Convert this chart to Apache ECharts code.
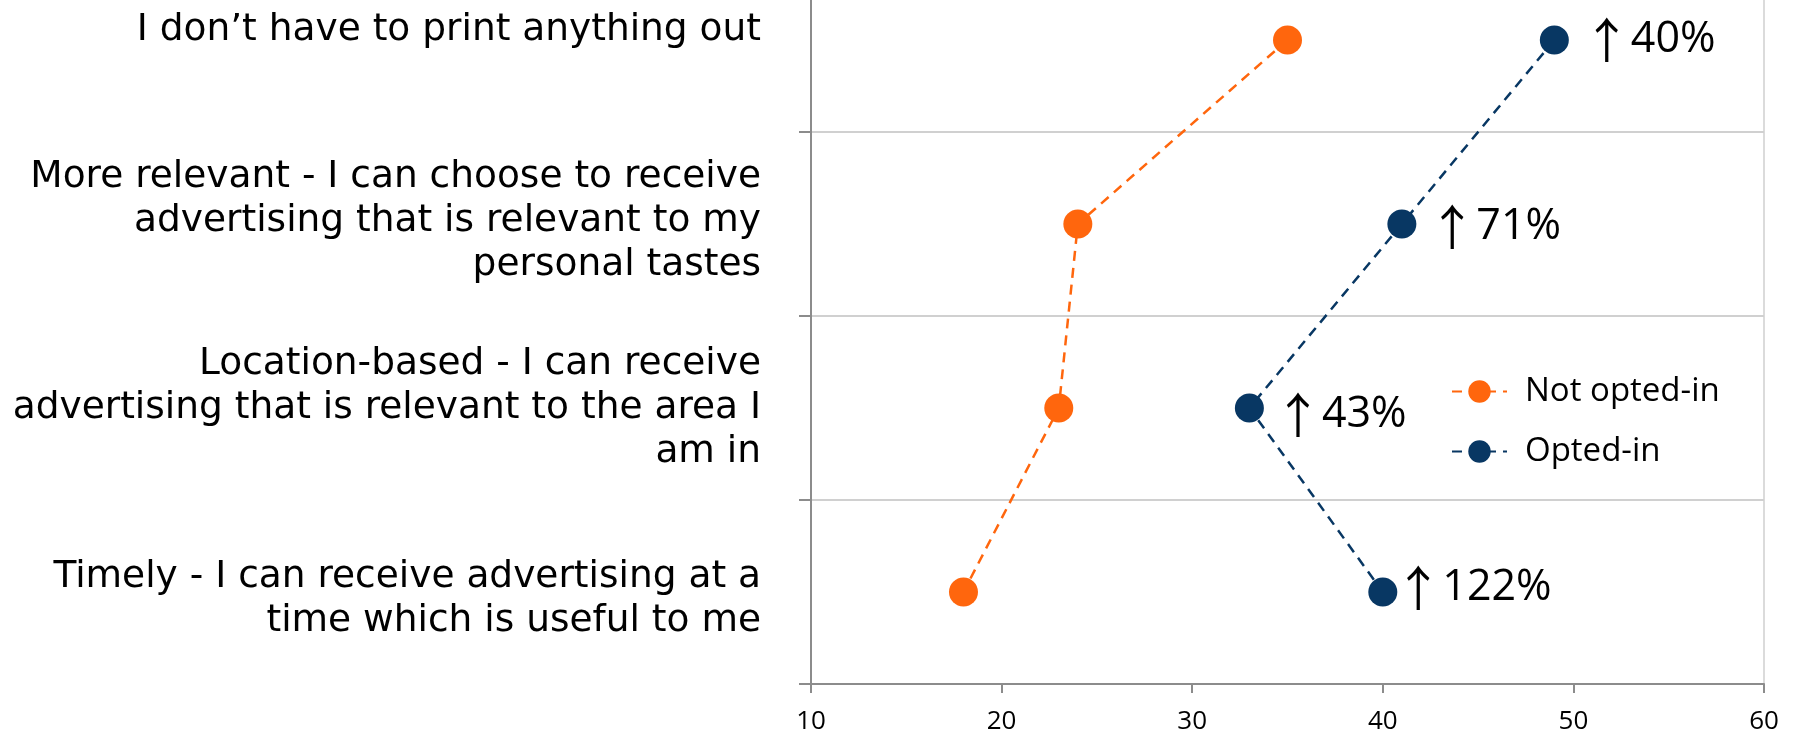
<!DOCTYPE html>
<html>
<head>
<meta charset="utf-8">
<script src="https://cdn.jsdelivr.net/npm/echarts@6/dist/echarts.min.js"></script>
<style>
  html, body { margin: 0; padding: 0; background: #ffffff; overflow: hidden; width: 1794px; height: 737px; position: relative; }
  /* The plot's top band runs past the upper edge of the page */
  #chart { position: absolute; left: 0; top: -52px; width: 1794px; height: 789px; }
</style>
</head>
<body>
<div id="chart"></div>
<script>
// Survey statements, listed top to bottom
const statements = [
  'I don\u2019t have to print anything out',
  'More relevant - I can choose to receive\nadvertising that is relevant to my\npersonal tastes',
  'Location-based - I can receive\nadvertising that is relevant to the area I\nam in',
  'Timely - I can receive advertising at a\ntime which is useful to me'
];

// Share of respondents agreeing with each statement
const notOptedIn = [35, 24, 23, 18];
const optedIn = [49, 41, 33, 40];

const seriesNames = ['Not opted-in', 'Opted-in'];

// Value axis ticks
const xMin = 10;
const xMax = 60;
const xStep = 10;

// Placement of the uplift labels beside the opted-in markers
const upliftGap = [14, 12, 10, -3];
const upliftShiftY = [0, 3, 7, -4];

// Blank space above / below each statement label (nudges it off its tick)
const statementPadTop = [0, 0, 0, 14];
const statementPadBottom = [19, 6, 0, 0];

const ORANGE = '#FF660D';
const NAVY = '#083763';
const AXIS_GREY = '#8c8c8c';
const GRID_GREY = '#d0d0d0';

const STATEMENT_FONT = "'DejaVu Sans', Verdana, sans-serif";
const NUMBER_FONT = "'Open Sans', sans-serif";

// Percentage gain of opted-in over not opted-in for a statement
function uplift(i) {
  return Math.round((optedIn[i] / notOptedIn[i] - 1) * 100);
}

// Rich-text styles: one for the statement lines, one per blank spacer height
const statementRich = {
  t: { fontFamily: STATEMENT_FONT, fontSize: 37.5, lineHeight: 44, color: '#000000' }
};
statementPadTop.concat(statementPadBottom).forEach((h) => {
  if (h > 0) statementRich['gap' + h] = { fontSize: 1, lineHeight: h };
});

function statementLabel(value, index) {
  const lines = value.split('\n').map((l) => '{t|' + l + '}');
  if (statementPadTop[index] > 0) lines.unshift('{gap' + statementPadTop[index] + '| }');
  if (statementPadBottom[index] > 0) lines.push('{gap' + statementPadBottom[index] + '| }');
  return lines.join('\n');
}

const chart = echarts.init(document.getElementById('chart'), null, { renderer: 'canvas' });

chart.setOption({
  animation: false,
  backgroundColor: '#ffffff',
  grid: {
    left: 811,
    right: 30,
    top: 0,
    bottom: 53,
    show: true,
    borderColor: GRID_GREY,
    borderWidth: 1.5
  },
  legend: {
    data: seriesNames,
    orient: 'vertical',
    left: 1446,
    top: 422,
    itemWidth: 55,
    itemHeight: 28,
    itemGap: 27,
    textStyle: {
      fontFamily: NUMBER_FONT,
      fontSize: 33,
      color: '#000000',
      padding: [0, 0, 0, 13]
    }
  },
  xAxis: {
    type: 'value',
    min: xMin,
    max: xMax,
    interval: xStep,
    axisLine: { show: true, lineStyle: { color: AXIS_GREY, width: 2 } },
    axisTick: { show: true, length: 9, lineStyle: { color: AXIS_GREY, width: 2 } },
    splitLine: { show: false },
    axisLabel: {
      fontFamily: NUMBER_FONT,
      fontSize: 26,
      color: '#000000',
      margin: 25
    }
  },
  yAxis: {
    type: 'category',
    inverse: true,
    boundaryGap: true,
    data: statements,
    axisLine: { show: true, lineStyle: { color: AXIS_GREY, width: 2 } },
    axisTick: { show: true, length: 12, lineStyle: { color: AXIS_GREY, width: 2 } },
    splitLine: { show: true, lineStyle: { color: GRID_GREY, width: 2 } },
    axisLabel: {
      fontFamily: STATEMENT_FONT,
      fontSize: 37.5,
      lineHeight: 44,
      color: '#000000',
      margin: 50,
      align: 'right',
      formatter: statementLabel,
      rich: statementRich
    }
  },
  series: [
    {
      name: seriesNames[0],
      type: 'line',
      data: notOptedIn.map((v, i) => [v, statements[i]]),
      symbol: 'circle',
      symbolSize: 29,
      itemStyle: { color: ORANGE },
      lineStyle: { color: ORANGE, width: 2.5, type: [10, 7] }
    },
    {
      name: seriesNames[1],
      type: 'line',
      data: optedIn.map((v, i) => ({
        value: [v, statements[i]],
        label: { distance: upliftGap[i], offset: [0, upliftShiftY[i]] }
      })),
      symbol: 'circle',
      symbolSize: 29,
      itemStyle: { color: NAVY },
      lineStyle: { color: NAVY, width: 2.5, type: [10, 7] },
      label: {
        show: true,
        position: 'right',
        fontFamily: NUMBER_FONT,
        fontSize: 43,
        color: '#000000',
        formatter: (p) => '{arrow|\u2191}{pct|' + uplift(p.dataIndex) + '%}',
        rich: {
          arrow: { fontFamily: "'Noto Sans CJK JP', 'DejaVu Sans', sans-serif", fontSize: 48, color: '#000000', lineHeight: 50 },
          pct: { fontFamily: NUMBER_FONT, fontSize: 43, color: '#000000', lineHeight: 50 }
        }
      }
    }
  ]
});
</script>
</body>
</html>
